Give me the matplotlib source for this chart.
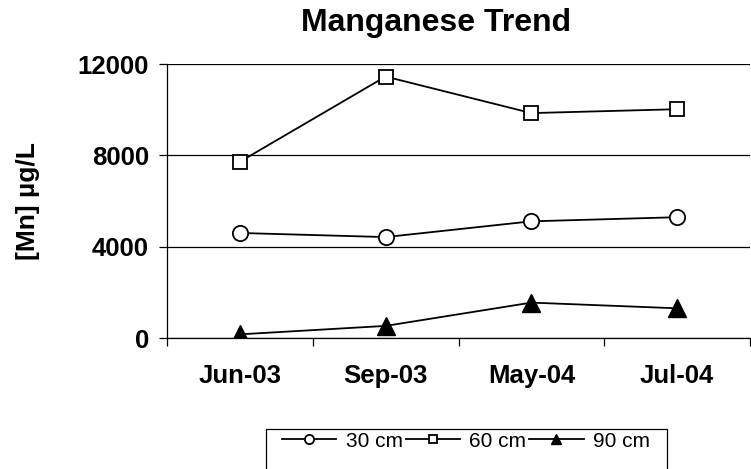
import matplotlib
matplotlib.use("Agg")
import matplotlib.pyplot as plt
from matplotlib.patches import Rectangle

plt.rcParams['font.family'] = ['Liberation Sans', 'DejaVu Sans']

# data
dates = ['Jun-03', 'Sep-03', 'May-04', 'Jul-04']
mn_30cm = [4600, 4420, 5110, 5290]
mn_60cm = [7720, 11450, 9850, 10020]
mn_90cm = [160, 530, 1550, 1300]

fig = plt.figure(figsize=(7.51, 4.69), dpi=100)
ax = fig.add_axes([167/751, 1 - 338/469, 583/751, 274/469])

x = range(len(dates))
ax.plot(x, mn_30cm, color='black', lw=1.3, marker='o', ms=11,
        mfc='white', mec='black', mew=1.3, label='30 cm')
ax.plot(x, mn_60cm, color='black', lw=1.3, marker='s', ms=10.5,
        mfc='white', mec='black', mew=1.3, label='60 cm')
ax.plot(x, mn_90cm, color='black', lw=1.3, marker='^', ms=13,
        mfc='black', mec='black', label='90 cm')

ax.set_xlim(-0.5, len(dates) - 0.5)
ax.set_ylim(0, 12000)
ax.set_yticks([0, 4000, 8000, 12000])
ax.grid(axis='y', color='black', lw=0.9)
ax.set_axisbelow(True)

# category boundaries get the tick marks, centres get the labels
ax.set_xticks([i - 0.5 for i in range(len(dates) + 1)])
ax.set_xticklabels([])
ax.set_xticks(list(x), minor=True)
ax.set_xticklabels(dates, minor=True, fontsize=18.5, fontweight='bold')
ax.tick_params(axis='x', which='major', direction='out', length=6, width=0.9)
ax.tick_params(axis='x', which='minor', length=0, pad=19)
ax.tick_params(axis='y', direction='out', length=6, width=0.9, pad=7,
               labelsize=18.5)
for lab in ax.get_yticklabels():
    lab.set_fontweight('bold')

for s in ['top', 'right']:
    ax.spines[s].set_visible(False)
ax.spines['left'].set_linewidth(0.9)
ax.spines['bottom'].set_linewidth(0.9)

fig.text(436/751, 1 - 23/469, 'Manganese Trend', ha='center', va='center',
         fontsize=23, fontweight='bold')
fig.text(28/751, 1 - 201/469, '[Mn] µg/L', ha='center', va='center',
         rotation=90, fontsize=19, fontweight='bold')

leg = fig.legend(loc='center', bbox_to_anchor=(466/751, 1 - 441/469),
                 ncol=3, frameon=False, fontsize=15, markerscale=0.6,
                 handlelength=2.6, handletextpad=0.45, columnspacing=0.15)
fig.patches.append(Rectangle((266/751, -0.05), (667 - 266)/751, 0.05 + 40/469,
                             transform=fig.transFigure, fill=False,
                             edgecolor='black', lw=0.9))

fig.savefig('out.png', dpi=100)
